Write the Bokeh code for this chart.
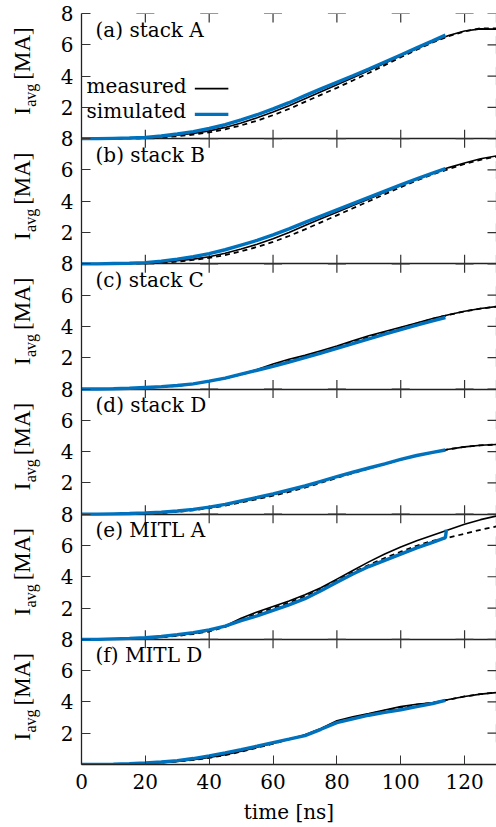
from math import pi
from bokeh.plotting import figure
from bokeh.layouts import row
from bokeh.models import Range1d, FixedTicker, Grid
from bokeh.core.properties import value
from bokeh.embed import file_html
from bokeh.resources import INLINE

# ---------------- data ----------------
T_MEAS = [0, 5, 10, 15, 20, 25, 30, 35, 40, 45, 50, 55, 60, 65, 70, 75, 80, 85, 90, 95, 100, 105, 110, 115, 120, 125, 130]
T_SIM = [0, 5, 10, 15, 20, 25, 30, 35, 40, 45, 50, 55, 60, 65, 70, 75, 80, 85, 90, 95, 100, 105, 110, 114]
T_SIM_E = [0, 5, 10, 15, 20, 25, 30, 35, 40, 45, 50, 55, 60, 65, 70, 75, 80, 85, 90, 95, 100, 105, 110, 114, 114.3]

PANEL_TITLES = ["(a) stack A", "(b) stack B", "(c) stack C", "(d) stack D", "(e) MITL A", "(f) MITL D"]

meas_a = [0, 0, 0.01, 0.03, 0.05, 0.12, 0.22, 0.34, 0.5, 0.72, 1.0, 1.33, 1.7, 2.1, 2.55, 3.0, 3.45, 3.9, 4.35, 4.82, 5.3, 5.75, 6.2, 6.6, 6.88, 7.02, 7.0]
dash_a = [0, 0, 0, 0.02, 0.03, 0.08, 0.15, 0.26, 0.4, 0.6, 0.85, 1.15, 1.5, 1.9, 2.35, 2.8, 3.25, 3.72, 4.2, 4.7, 5.2, 5.68, 6.15, 6.55, 6.85, 7.05, 7.05]
sim_a = [0, 0, 0.02, 0.04, 0.08, 0.17, 0.3, 0.45, 0.65, 0.9, 1.2, 1.53, 1.9, 2.3, 2.75, 3.18, 3.6, 4.02, 4.45, 4.9, 5.35, 5.8, 6.25, 6.62]

meas_b = [0, 0, 0.01, 0.03, 0.05, 0.1, 0.2, 0.3, 0.45, 0.68, 0.95, 1.25, 1.6, 2.0, 2.45, 2.88, 3.3, 3.72, 4.15, 4.58, 5.0, 5.42, 5.8, 6.15, 6.45, 6.72, 6.9]
dash_b = [0, 0, 0, 0.02, 0.03, 0.07, 0.14, 0.25, 0.38, 0.56, 0.8, 1.08, 1.4, 1.78, 2.2, 2.65, 3.1, 3.55, 4.0, 4.45, 4.9, 5.32, 5.72, 6.05, 6.38, 6.65, 6.85]
sim_b = [0, 0, 0.02, 0.04, 0.08, 0.17, 0.3, 0.45, 0.65, 0.9, 1.2, 1.5, 1.85, 2.23, 2.65, 3.05, 3.45, 3.85, 4.25, 4.65, 5.05, 5.43, 5.8, 6.08]

meas_c = [0, 0, 0.02, 0.04, 0.08, 0.14, 0.22, 0.34, 0.5, 0.7, 0.95, 1.25, 1.6, 1.9, 2.15, 2.45, 2.75, 3.08, 3.4, 3.68, 3.95, 4.22, 4.5, 4.75, 4.97, 5.15, 5.27]
dash_c = [0, 0, 0.02, 0.04, 0.08, 0.13, 0.2, 0.32, 0.48, 0.68, 0.92, 1.2, 1.5, 1.8, 2.08, 2.38, 2.68, 3.0, 3.32, 3.62, 3.9, 4.2, 4.48, 4.74, 4.96, 5.14, 5.26]
sim_c = [0, 0, 0.02, 0.05, 0.1, 0.15, 0.22, 0.33, 0.5, 0.7, 0.95, 1.2, 1.45, 1.72, 2.0, 2.3, 2.6, 2.9, 3.2, 3.5, 3.8, 4.08, 4.35, 4.57]

meas_d = [0, 0, 0.02, 0.03, 0.05, 0.1, 0.18, 0.28, 0.42, 0.6, 0.8, 1.02, 1.25, 1.5, 1.8, 2.1, 2.4, 2.68, 2.95, 3.22, 3.5, 3.75, 3.95, 4.15, 4.3, 4.4, 4.45]
dash_d = [0, 0, 0.01, 0.02, 0.04, 0.08, 0.15, 0.25, 0.38, 0.55, 0.75, 0.96, 1.18, 1.42, 1.7, 2.0, 2.32, 2.62, 2.92, 3.2, 3.48, 3.74, 3.95, 4.15, 4.3, 4.4, 4.45]
sim_d = [0, 0, 0.02, 0.04, 0.08, 0.13, 0.2, 0.31, 0.45, 0.63, 0.85, 1.07, 1.3, 1.55, 1.8, 2.1, 2.4, 2.68, 2.95, 3.22, 3.5, 3.75, 3.95, 4.1]

meas_e = [0, 0, 0.02, 0.04, 0.08, 0.15, 0.25, 0.38, 0.55, 0.85, 1.35, 1.75, 2.1, 2.45, 2.85, 3.3, 3.85, 4.4, 4.95, 5.45, 5.9, 6.3, 6.65, 7.0, 7.35, 7.65, 7.88]
dash_e = [0, 0, 0.02, 0.04, 0.07, 0.13, 0.22, 0.34, 0.5, 0.8, 1.25, 1.65, 2.0, 2.35, 2.75, 3.2, 3.75, 4.28, 4.75, 5.2, 5.6, 5.98, 6.3, 6.5, 6.75, 7.0, 7.22]
sim_e = [0, 0, 0.03, 0.06, 0.1, 0.18, 0.3, 0.43, 0.6, 0.85, 1.2, 1.5, 1.85, 2.2, 2.6, 3.1, 3.65, 4.18, 4.65, 5.05, 5.45, 5.85, 6.2, 6.5, 7.0]

meas_f = [0, 0.01, 0.03, 0.05, 0.08, 0.13, 0.2, 0.3, 0.45, 0.63, 0.85, 1.1, 1.35, 1.62, 1.9, 2.3, 2.8, 3.05, 3.25, 3.48, 3.7, 3.85, 3.95, 4.15, 4.35, 4.5, 4.6]
dash_f = [0, 0.01, 0.02, 0.04, 0.07, 0.12, 0.19, 0.29, 0.43, 0.6, 0.82, 1.07, 1.33, 1.6, 1.88, 2.28, 2.75, 3.0, 3.22, 3.45, 3.65, 3.82, 3.95, 4.15, 4.35, 4.5, 4.6]
sim_f = [0, 0.01, 0.02, 0.05, 0.1, 0.16, 0.25, 0.38, 0.55, 0.74, 0.95, 1.17, 1.4, 1.62, 1.85, 2.25, 2.68, 2.92, 3.15, 3.33, 3.5, 3.7, 3.9, 4.1]

MEAS = [meas_a, meas_b, meas_c, meas_d, meas_e, meas_f]
DASH = [dash_a, dash_b, dash_c, dash_d, dash_e, dash_f]
SIM = [sim_a, sim_b, sim_c, sim_d, sim_e, sim_f]
SIM_T = [T_SIM, T_SIM, T_SIM, T_SIM, T_SIM_E, T_SIM]

X_TICKS = [0, 20, 40, 60, 80, 100, 120]
X_MAX = 130
Y_TICKS = [2, 4, 6, 8]          # per panel
Y_MAX = 8                       # per panel range 0..8
N = len(PANEL_TITLES)

# ---------------- style ----------------
FONT = "Liberation Serif"        # left label strip
MFONT = "DejaVu Serif"           # main plot texts
FS = "23px"
MFS = "20px"
BLUE = "#0072bd"
TICK_COL = "#333333"
LINE_COL = "#222222"
LEFT_W = 45

shared_y = Range1d(0, Y_MAX * N)
panel_ranges = {"panel%d" % i: Range1d(start=-Y_MAX * (N - 1 - i), end=Y_MAX * (i + 1)) for i in range(N)}

p = figure(width=496 - LEFT_W, height=827, output_backend="svg", toolbar_location=None,
           x_range=Range1d(0, X_MAX), y_range=shared_y,
           min_border_left=81 - LEFT_W, min_border_right=0, min_border_top=13, min_border_bottom=63)
p.outline_line_color = None
p.xgrid.visible = False
p.ygrid.visible = False
p.extra_y_ranges = panel_ranges

all_y = [k * Y_MAX + t for k in range(N) for t in Y_TICKS]
overrides = {v: str(Y_TICKS[i % len(Y_TICKS)]) for i, v in enumerate(all_y)}

# left axis
ya = p.yaxis[0]
ya.ticker = FixedTicker(ticks=all_y)
ya.major_label_overrides = overrides
ya.major_tick_in = 9
ya.major_tick_out = 0
ya.minor_tick_line_color = None
ya.major_tick_line_color = TICK_COL
ya.axis_line_color = LINE_COL
ya.axis_line_width = 1.3
ya.major_label_standoff = 8
ya.major_label_text_font = MFONT
ya.major_label_text_font_size = MFS
ya.major_label_text_color = "black"

# bottom axis
xa = p.xaxis[0]
xa.ticker = FixedTicker(ticks=X_TICKS)
xa.major_tick_in = 9
xa.major_tick_out = 0
xa.minor_tick_line_color = None
xa.major_tick_line_color = TICK_COL
xa.axis_line_color = LINE_COL
xa.axis_line_width = 1.3
xa.major_label_standoff = 9
xa.major_label_text_font = MFONT
xa.major_label_text_font_size = MFS
xa.major_label_text_color = "black"
xa.axis_label = "time [ns]"
xa.axis_label_text_font = MFONT
xa.axis_label_text_font_size = MFS
xa.axis_label_text_font_style = "normal"
xa.axis_label_text_color = "black"
xa.axis_label_standoff = 8

# panel separators and top border
seps = [k * Y_MAX for k in range(1, N)]
p.add_layout(Grid(dimension=1, ticker=FixedTicker(ticks=seps), grid_line_color=LINE_COL,
                  grid_line_width=1.5))
p.add_layout(Grid(dimension=1, ticker=FixedTicker(ticks=[Y_MAX * N]), grid_line_color=LINE_COL,
                  grid_line_width=2.6))

# inward tick marks: inner boundaries, top edge (x ticks) and right edge (y ticks)
bounds = seps + [Y_MAX * N]
tx = [x for s in bounds for x in X_TICKS[1:]]
ty = [s for s in bounds for x in X_TICKS[1:]]
p.scatter(tx, ty, marker="cross", size=18, line_color=TICK_COL, line_width=1.2)
p.scatter([X_MAX] * len(all_y), all_y, marker="cross", size=18, line_color=TICK_COL, line_width=1.2)

# y-label figure on the left
lf = figure(width=LEFT_W, height=827, output_backend="svg", toolbar_location=None,
            x_range=Range1d(0, LEFT_W), y_range=shared_y,
            x_axis_location=None, y_axis_location=None,
            min_border_left=0, min_border_right=0, min_border_top=13, min_border_bottom=63)
lf.outline_line_color = None
lf.xgrid.visible = False
lf.ygrid.visible = False
lf.extra_y_ranges = panel_ranges

for i in range(N):
    name = "panel%d" % i
    p.line(T_MEAS, DASH[i], y_range_name=name, line_color="black", line_width=1.8,
           line_dash="5 4")
    p.line(T_MEAS, MEAS[i], y_range_name=name, line_color="black", line_width=1.6)
    p.line(SIM_T[i], SIM[i], y_range_name=name, line_color=BLUE, line_width=3.4)

    p.text(x=[4.4], y=[6.2], text=[PANEL_TITLES[i]], y_range_name=name,
           text_font=value(MFONT), text_font_size=value(MFS), text_color="black")
    # y axis label  I_avg [MA]
    lf.text(x=[34], y=[1.53], text=["I"], angle=pi / 2, y_range_name=name,
            text_font=value(FONT), text_font_size=value(FS), text_color="black")
    lf.text(x=[38], y=[2.04], text=["avg"], angle=pi / 2, y_range_name=name,
            text_font=value(FONT), text_font_size=value("16px"), text_color="black")
    lf.text(x=[34], y=[3.77], text=["[MA]"], angle=pi / 2, y_range_name=name,
            text_font=value(FONT), text_font_size=value(FS), text_color="black")

# legend (panel a), gnuplot style: text then sample line
LEG_LABELS = ["measured", "simulated"]
LEG_COLORS = ["black", BLUE]
LEG_WIDTHS = [1.6, 3.4]
LEG_TEXT_Y = [2.63, 0.97]
LEG_LINE_Y = [3.2, 1.55]
LEG_LINE_X = [35.5, 46.0]
for lab, col, lw, ty_, ly in zip(LEG_LABELS, LEG_COLORS, LEG_WIDTHS, LEG_TEXT_Y, LEG_LINE_Y):
    p.text(x=[1.6], y=[ty_], text=[lab], y_range_name="panel0",
           text_font=value(MFONT), text_font_size=value(MFS), text_color="black")
    p.line(LEG_LINE_X, [ly, ly], y_range_name="panel0", line_color=col, line_width=lw)

layout = row(lf, p, spacing=0)
open("out.html", "w").write(file_html(layout, INLINE))
